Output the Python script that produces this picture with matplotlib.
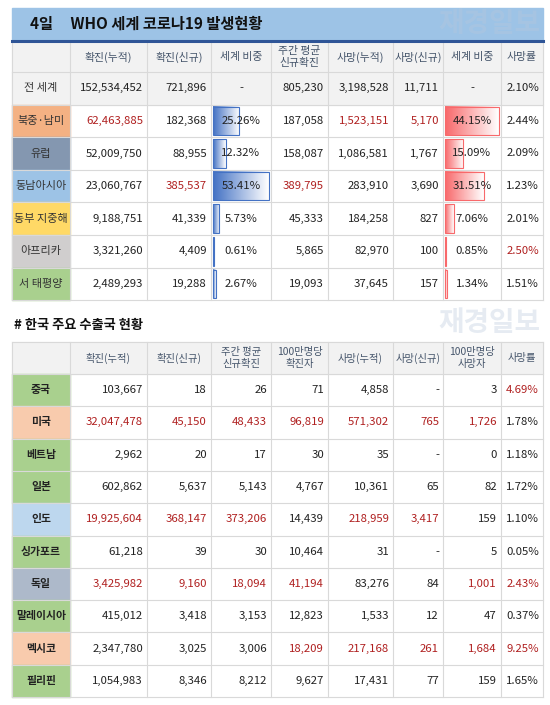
import matplotlib
matplotlib.use("Agg")
import matplotlib.pyplot as plt
import numpy as np
from matplotlib.patches import Rectangle
from matplotlib.colors import LinearSegmentedColormap

plt.rcParams['font.family'] = ['Noto Sans CJK KR', 'DejaVu Sans']

# ---------------- data ----------------
top_title = "4일     WHO 세계 코로나19 발생현황"
top_headers = ["확진(누적)", "확진(신규)", "세계 비중", "주간 평균\n신규확진", "사망(누적)", "사망(신규)", "세계 비중", "사망률"]
top_regions = ["전 세계", "북중·남미", "유럽", "동남아시아", "동부 지중해", "아프리카", "서 태평양"]
top_conf_cum = ["152,534,452", "62,463,885", "52,009,750", "23,060,767", "9,188,751", "3,321,260", "2,489,293"]
top_conf_new = ["721,896", "182,368", "88,955", "385,537", "41,339", "4,409", "19,288"]
top_conf_share = [None, 25.26, 12.32, 53.41, 5.73, 0.61, 2.67]
top_weekly = ["805,230", "187,058", "158,087", "389,795", "45,333", "5,865", "19,093"]
top_death_cum = ["3,198,528", "1,523,151", "1,086,581", "283,910", "184,258", "82,970", "37,645"]
top_death_new = ["11,711", "5,170", "1,767", "3,690", "827", "100", "157"]
top_death_share = [None, 44.15, 15.09, 31.51, 7.06, 0.85, 1.34]
top_death_rate = ["2.10%", "2.44%", "2.09%", "1.23%", "2.01%", "2.50%", "1.51%"]
top_label_colors = ["#F2F2F2", "#F4B183", "#8497B0", "#9DC3E6", "#FFD966", "#D0CECE", "#A9D08E"]
top_red = [[], [0, 4, 5], [], [1, 3], [], [7], []]

bot_title = "# 한국 주요 수출국 현황"
bot_headers = ["확진(누적)", "확진(신규)", "주간 평균\n신규확진", "100만명당\n확진자", "사망(누적)", "사망(신규)", "100만명당\n사망자", "사망률"]
bot_countries = ["중국", "미국", "베트남", "일본", "인도", "싱가포르", "독일", "말레이시아", "멕시코", "필리핀"]
bot_conf_cum = ["103,667", "32,047,478", "2,962", "602,862", "19,925,604", "61,218", "3,425,982", "415,012", "2,347,780", "1,054,983"]
bot_conf_new = ["18", "45,150", "20", "5,637", "368,147", "39", "9,160", "3,418", "3,025", "8,346"]
bot_weekly = ["26", "48,433", "17", "5,143", "373,206", "30", "18,094", "3,153", "3,006", "8,212"]
bot_conf_per_m = ["71", "96,819", "30", "4,767", "14,439", "10,464", "41,194", "12,823", "18,209", "9,627"]
bot_death_cum = ["4,858", "571,302", "35", "10,361", "218,959", "31", "83,276", "1,533", "217,168", "17,431"]
bot_death_new = ["-", "765", "-", "65", "3,417", "-", "84", "12", "261", "77"]
bot_death_per_m = ["3", "1,726", "0", "82", "159", "5", "1,001", "47", "1,684", "159"]
bot_death_rate = ["4.69%", "1.78%", "1.18%", "1.72%", "1.10%", "0.05%", "2.43%", "0.37%", "9.25%", "1.65%"]
bot_label_colors = ["#A9D08E", "#F8CBAD", "#A9D08E", "#A9D08E", "#BDD7EE", "#A9D08E", "#ADB9CA", "#A9D08E", "#F8CBAD", "#A9D08E"]
bot_red = [[7], [0, 1, 2, 3, 4, 5, 6], [], [], [0, 1, 2, 4, 5], [], [0, 1, 2, 3, 6, 7], [], [3, 4, 5, 6, 7], []]

# ---------------- layout ----------------
W, H = 550, 705
fig = plt.figure(figsize=(W / 100, H / 100), dpi=100)
ax = fig.add_axes([0, 0, 1, 1])
ax.set_xlim(0, W)
ax.set_ylim(H, 0)
ax.axis('off')

cols = [12, 70, 147, 211, 271, 328, 393, 443, 501, 543]
RED = "#B02020"
TXT = "#222222"
HDR = "#44546A"
GRID = "#D9D9D9"
FS = 8.2


def cell_text(ci, y0, y1, s, color=TXT, align='right', bold=False, fs=FS):
    x0, x1 = cols[ci], cols[ci + 1]
    if align == 'right':
        x, ha = x1 - 4, 'right'
    else:
        x, ha = (x0 + x1) / 2, 'center'
    ax.text(x, (y0 + y1) / 2, s, ha=ha, va='center', color=color, fontsize=fs,
            fontweight='bold' if bold else 'normal', linespacing=1.25, zorder=5)


def gradient_bar(x0, y0, w, h, c_full, edge):
    if w <= 0:
        return
    grad = np.linspace(0, 1, 64)[None, :]
    cmap = LinearSegmentedColormap.from_list("g", [c_full, "#FFFFFF"])
    ax.imshow(grad, cmap=cmap, extent=(x0, x0 + w, y0 + h, y0), aspect='auto', zorder=1)
    ax.add_patch(Rectangle((x0, y0), w, h, fill=False, ec=edge, lw=0.8, zorder=2))


def draw_grid(ytop, ybot, row_edges):
    for x in cols:
        ax.plot([x, x], [ytop, ybot], color=GRID, lw=0.8, zorder=3)
    for y in row_edges:
        ax.plot([cols[0], cols[-1]], [y, y], color=GRID, lw=0.8, zorder=3)


# watermarks
for wy in (24, 323):
    ax.text(540, wy, "재경일보", ha='right', va='center', fontsize=20, color="#B8C8DC",
            alpha=0.35, fontweight='bold', zorder=0.5)

# ---- top table ----
ax.add_patch(Rectangle((12, 8), 531, 32, color="#9DC3E6", zorder=0))
ax.plot([12, 543], [41, 41], color="#2F5597", lw=2.2, zorder=4)
ax.text(30, 24, top_title, ha='left', va='center', fontsize=11, fontweight='bold', color="#111111")

t_hdr0, t_hdr1 = 42, 72
t_rh = 32.6
t_edges = [t_hdr1 + i * t_rh for i in range(len(top_regions) + 1)]
ax.add_patch(Rectangle((12, t_hdr0), 531, t_hdr1 - t_hdr0, color="#F2F2F2", zorder=0))
ax.add_patch(Rectangle((12, t_edges[0]), 531, t_rh, color="#F2F2F2", zorder=0))
for i, h in enumerate(top_headers):
    cell_text(i + 1, t_hdr0, t_hdr1, h, color=HDR, align='center', fs=7.8)

share_w = cols[4] - cols[3] - 4
dshare_w = cols[8] - cols[7] - 4
cmax = max(x for x in top_conf_share if x)
dmax = max(x for x in top_death_share if x)
for r, name in enumerate(top_regions):
    y0, y1 = t_edges[r], t_edges[r + 1]
    ax.add_patch(Rectangle((cols[0], y0), cols[1] - cols[0], y1 - y0, color=top_label_colors[r], zorder=0))
    cell_text(0, y0, y1, name, color="#333333", align='center', fs=8.0)
    vals = [top_conf_cum[r], top_conf_new[r], None, top_weekly[r], top_death_cum[r],
            top_death_new[r], None, top_death_rate[r]]
    for c, v in enumerate(vals):
        col = RED if c in top_red[r] else TXT
        if c == 2:
            s = top_conf_share[r]
            if s is None:
                cell_text(3, y0, y1, "-", align='center')
            else:
                gradient_bar(cols[3] + 2, y0 + 2, share_w * s / cmax, y1 - y0 - 4, "#4472C4", "#4472C4")
                cell_text(3, y0, y1, f"{s:.2f}%", align='center')
        elif c == 6:
            s = top_death_share[r]
            if s is None:
                cell_text(7, y0, y1, "-", align='center')
            else:
                gradient_bar(cols[7] + 2, y0 + 2, dshare_w * s / dmax, y1 - y0 - 4, "#F8696B", "#F8696B")
                cell_text(7, y0, y1, f"{s:.2f}%", align='center')
        else:
            cell_text(c + 1, y0, y1, v, color=col)
draw_grid(t_hdr0, t_edges[-1], t_edges)

# ---- bottom table ----
ax.text(14, 325, bot_title, ha='left', va='center', fontsize=9.5, fontweight='bold', color="#111111")
b_hdr0, b_hdr1 = 342, 374
b_rh = 32.3
b_edges = [b_hdr1 + i * b_rh for i in range(len(bot_countries) + 1)]
ax.add_patch(Rectangle((12, b_hdr0), 531, b_hdr1 - b_hdr0, color="#F2F2F2", zorder=0))
for i, h in enumerate(bot_headers):
    cell_text(i + 1, b_hdr0, b_hdr1, h, color=HDR, align='center', fs=7.4)
for r, name in enumerate(bot_countries):
    y0, y1 = b_edges[r], b_edges[r + 1]
    ax.add_patch(Rectangle((cols[0], y0), cols[1] - cols[0], y1 - y0, color=bot_label_colors[r], zorder=0))
    cell_text(0, y0, y1, name, color="#222222", align='center', bold=True, fs=7.8)
    vals = [bot_conf_cum[r], bot_conf_new[r], bot_weekly[r], bot_conf_per_m[r], bot_death_cum[r],
            bot_death_new[r], bot_death_per_m[r], bot_death_rate[r]]
    for c, v in enumerate(vals):
        cell_text(c + 1, y0, y1, v, color=RED if c in bot_red[r] else TXT)
draw_grid(b_hdr0, b_edges[-1], [b_hdr0] + b_edges)

fig.savefig("out.png", dpi=100)
